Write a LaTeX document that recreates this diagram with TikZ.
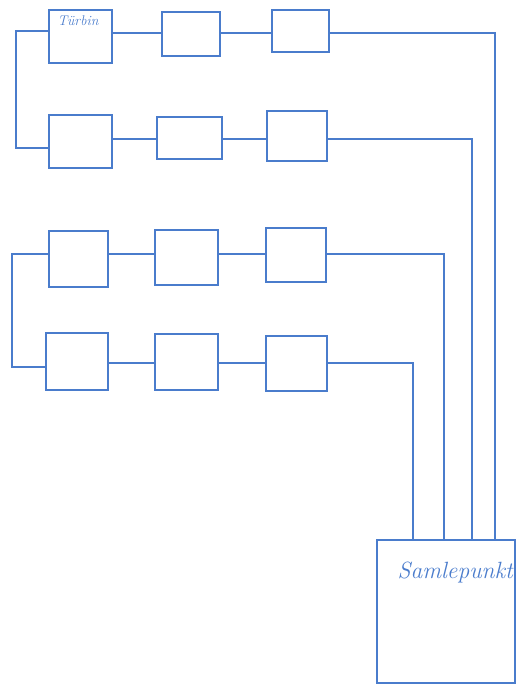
\documentclass[tikz,border=0pt]{standalone}
\usepackage{fontspec}
\definecolor{pen}{RGB}{74,124,204}
\begin{document}
\begin{tikzpicture}[x=1pt,y=-1pt,
  line width=1.2pt, draw=pen,
  box/.style n args={2}{draw=pen, line width=1.2pt, rectangle, inner sep=0pt,
     minimum width=#1, minimum height=#2},
  wire/.style={draw=pen, line width=1.2pt},
  hand/.style={text=pen, font=\itshape, inner sep=0pt}]
\useasboundingbox (0,0) rectangle (518,690);
% row 1
\node[box={63pt}{53pt}] (a1) at (80.5,36.5) {};
\node[box={58pt}{44pt}] (a2) at (191,34) {};
\node[box={57pt}{42pt}] (a3) at (300.5,31) {};
% row 2
\node[box={63pt}{53pt}] (b1) at (80.5,141.5) {};
\node[box={65pt}{42pt}] (b2) at (189.5,138) {};
\node[box={60pt}{50pt}] (b3) at (297,136) {};
% row 3
\node[box={59pt}{56pt}] (c1) at (78.5,259) {};
\node[box={63pt}{55pt}] (c2) at (186.5,257.5) {};
\node[box={60pt}{54pt}] (c3) at (296,255) {};
% row 4
\node[box={62pt}{57pt}] (d1) at (77,361.5) {};
\node[box={63pt}{56pt}] (d2) at (186.5,362) {};
\node[box={61pt}{55pt}] (d3) at (296.5,363.5) {};
% collection point
\node[box={138pt}{143pt}] (s) at (446,611.5) {};
\node[hand, anchor=north west, font=\itshape\fontsize{14}{16}\selectfont] (tl) at (57,15) {Türbin};
\node[hand, anchor=west, font=\itshape\fontsize{23.5}{28}\selectfont] (sl) at (397,572) {Samlepunkt};
% helper coordinates
\coordinate (r1) at (0,33);
\coordinate (r2) at (0,139);
\coordinate (r3) at (0,254);
\coordinate (r4) at (0,363);
\coordinate (v1) at (495,0);
\coordinate (v2) at (472,0);
\coordinate (v3) at (444,0);
\coordinate (v4) at (413,0);
\coordinate (la) at (16,31);
\coordinate (lb) at (16,148);
\coordinate (lc) at (12,254);
\coordinate (ld) at (12,367);
% series wiring
\draw[wire] (a1.east |- r1) -- (a2.west |- r1);
\draw[wire] (a2.east |- r1) -- (a3.west |- r1);
\draw[wire] (b1.east |- r2) -- (b2.west |- r2);
\draw[wire] (b2.east |- r2) -- (b3.west |- r2);
\draw[wire] (c1.east |- r3) -- (c2.west |- r3);
\draw[wire] (c2.east |- r3) -- (c3.west |- r3);
\draw[wire] (d1.east |- r4) -- (d2.west |- r4);
\draw[wire] (d2.east |- r4) -- (d3.west |- r4);
% left loops
\draw[wire] (a1.west |- la) -- (la) -- (lb) -- (b1.west |- lb);
\draw[wire] (c1.west |- lc) -- (lc) -- (ld) -- (d1.west |- ld);
% to collection point
\draw[wire] (a3.east |- r1) -| (v1 |- s.north);
\draw[wire] (b3.east |- r2) -| (v2 |- s.north);
\draw[wire] (c3.east |- r3) -| (v3 |- s.north);
\draw[wire] (d3.east |- r4) -| (v4 |- s.north);
\end{tikzpicture}
\end{document}
